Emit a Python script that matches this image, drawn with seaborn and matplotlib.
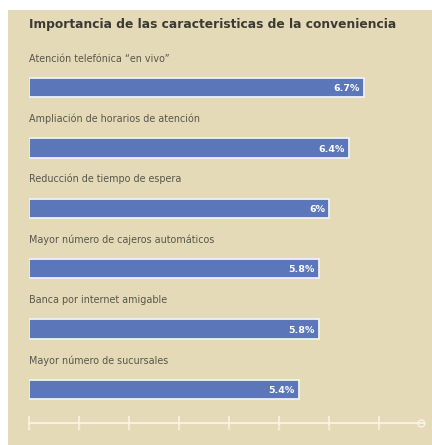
import matplotlib
matplotlib.use("Agg")
import matplotlib.pyplot as plt
from matplotlib.patches import Rectangle
import seaborn as sns
import pandas as pd

title = "Importancia de las caracteristicas de la conveniencia"
categories = [
    "Atención telefónica “en vivo”",
    "Ampliación de horarios de atención",
    "Reducción de tiempo de espera",
    "Mayor número de cajeros automáticos",
    "Banca por internet amigable",
    "Mayor número de sucursales",
]
values = [6.7, 6.4, 6.0, 5.8, 5.8, 5.4]
value_labels = ["6.7%", "6.4%", "6%", "5.8%", "5.8%", "5.4%"]
tick_values = [0, 1, 2, 3, 4, 5, 6, 7]

BG = "#e5dab7"
BAR = "#5b77b9"

sns.set_style("white")
plt.rcParams["font.family"] = ["DejaVu Sans"]

W, H = 432, 445
fig = plt.figure(figsize=(W / 100, H / 100), dpi=100)
fig.patch.set_facecolor("white")
fig.patches.append(Rectangle((8 / W, 0), 1, (H - 10) / H, transform=fig.transFigure,
                             facecolor=BG, edgecolor="none", zorder=-10))

ax = fig.add_axes([29 / W, (H - 423) / H, 395 / W, (423 - 10) / H])
ax.set_facecolor("none")

df = pd.DataFrame({"cat": categories, "val": values})
sns.barplot(data=df, x="val", y="cat", orient="h", color=BAR, width=0.32,
            saturation=1, edgecolor="#eef1f8", linewidth=1.3, ax=ax)

ax.set_xlim(0, 7.9)
ax.set_ylim(5.56, -1.285)

for i, (c, v, lab) in enumerate(zip(categories, values, value_labels)):
    ax.text(0, i - 0.48, c, ha="left", va="center", fontsize=6.9, color="#57554c")
    ax.text(v - 0.08, i + 0.02, lab, ha="right", va="center", fontsize=6.8,
            color="white", fontweight="bold")

ax.text(0, -1.04, title, ha="left", va="center", fontsize=8.85,
        fontweight="bold", color="#3b3a33")

ax.set_xlabel("")
ax.set_ylabel("")
ax.set_yticks([])
ax.set_xticks(tick_values)
ax.set_xticklabels([str(t) for t in tick_values], fontsize=5, color="#ece2c4")
ax.tick_params(axis="x", bottom=True, direction="inout", length=10, width=1.2,
               color="#faf4e4", pad=-3)
for s in ["top", "right", "left"]:
    ax.spines[s].set_visible(False)
ax.spines["bottom"].set_color("#faf4e4")
ax.spines["bottom"].set_linewidth(1.3)
ax.plot([7.85], [5.56], marker="o", markersize=5, markerfacecolor="none",
        markeredgecolor="#faf4e4", clip_on=False)

fig.savefig("out.png", dpi=100, facecolor=fig.get_facecolor())
